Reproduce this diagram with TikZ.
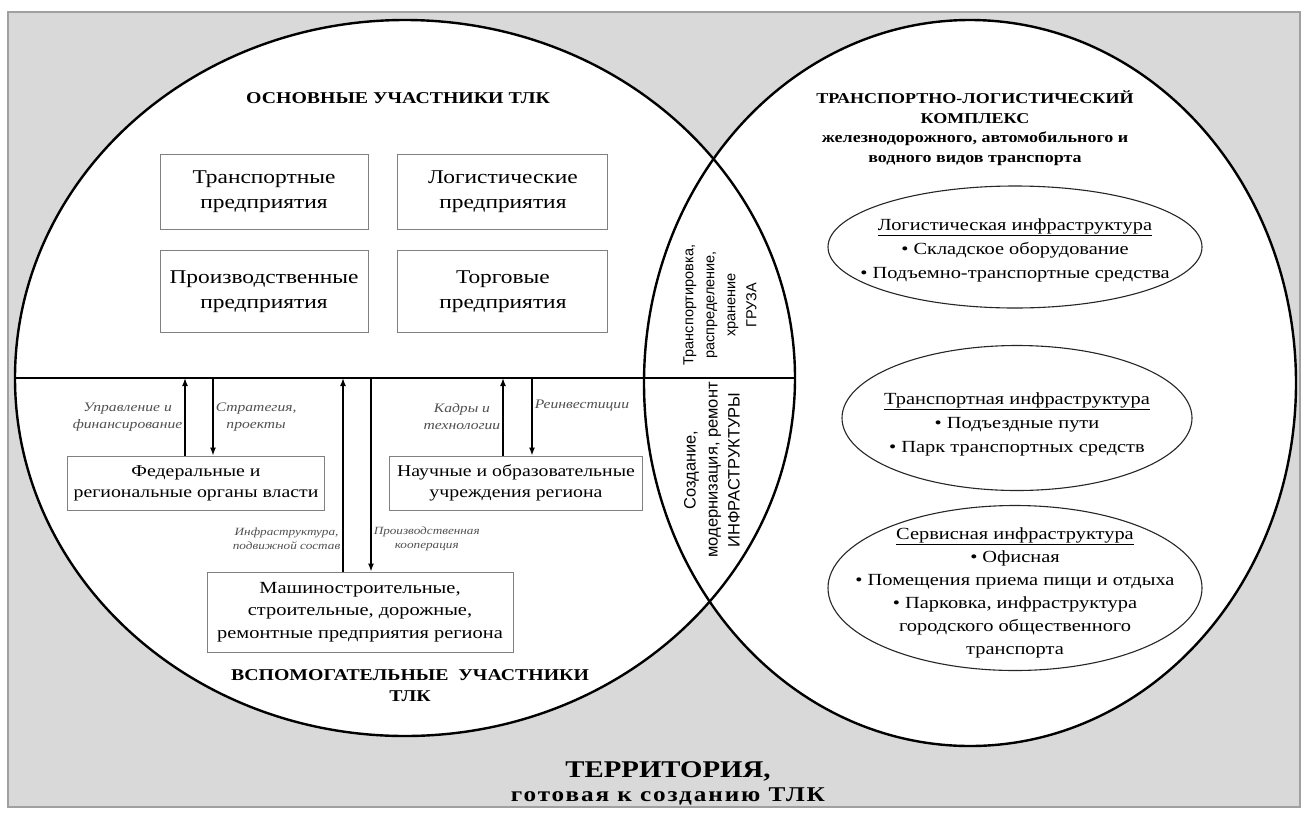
\documentclass[tikz,border=0pt]{standalone}
\usepackage{fontspec}
\setmainfont{Liberation Serif}[FakeStretch=1.2]
\setsansfont{Liberation Sans}
\usetikzlibrary{arrows.meta,positioning,calc,shapes.geometric}
\definecolor{cBack}{HTML}{D9D9D9}
\definecolor{cRim}{HTML}{A0A0A0}
\definecolor{cBox}{HTML}{808080}
\definecolor{cNote}{HTML}{505050}
\newcommand{\fsz}[2]{\fontsize{#1}{#2}\selectfont}
\tikzset{
  actor/.style={draw=cBox, line width=0.9pt, fill=white, inner sep=2pt,
                align=center, font=\fsz{19.5}{25}},
  aux/.style={actor, font=\fsz{16.5}{21}},
  infra/.style={ellipse, draw=black!85, line width=1.1pt, fill=white, inner sep=0pt},
  infotxt/.style={align=center, inner sep=0pt, font=\fsz{17}{24}},
  head/.style={font=\bfseries\fsz{16.5}{21}, align=center},
  lens/.style={rotate=90, align=center, font=\sffamily\fsz{14.5}{21}},
  flow/.style={-{Latex[length=8pt,width=6pt]}, line width=1.5pt},
  note/.style={font=\itshape\fsz{13}{17}, text=cNote, align=center, inner sep=2pt},
  setline/.style={line width=2.4pt}
}
\begin{document}
\begin{tikzpicture}[x=1pt, y=-1pt]
\useasboundingbox (0,0) rectangle (1304,812);
% territory and the two sets
\draw[cRim, fill=cBack, line width=1.2pt] (8,12) rectangle (1300,807);
\fill[white] (405,378) ellipse [x radius=390pt, y radius=358pt];
\fill[white] (970,383) ellipse [x radius=326pt, y radius=363pt];
\draw[setline] (405,378) ellipse [x radius=390pt, y radius=358pt];
\draw[setline] (970,383) ellipse [x radius=326pt, y radius=363pt];
\coordinate (divL) at (15,378);
\coordinate (divR) at (795,378);
\draw[line width=1.6pt] (divL) -- (divR);
% main participants
\node[head] (mainhd) at (398,98) {ОСНОВНЫЕ УЧАСТНИКИ ТЛК};
\node[actor, minimum width=208pt, minimum height=75pt] (trans) at (264,192) {Транспортные\\предприятия};
\node[actor, minimum width=210pt, minimum height=75pt, right=29pt of trans] (logi) {Логистические\\предприятия};
\node[actor, minimum width=208pt, minimum height=82pt, below=20pt of trans] (prod) {Производственные\\предприятия};
\node[actor, minimum width=210pt, minimum height=82pt, right=29pt of prod] (trade) {Торговые\\предприятия};
% auxiliary participants
\node[aux, minimum width=257pt, minimum height=54pt] (fed) at (196,483) {Федеральные и\\региональные органы власти};
\node[aux, minimum width=253pt, minimum height=54pt] (sci) at (516,483) {Научные и образовательные\\учреждения региона};
\node[aux, minimum width=306pt, minimum height=80pt, font=\fsz{17}{22.5}] (mach) at (360,612) {Машиностроительные,\\строительные, дорожные,\\ремонтные предприятия региона};
\node[head] (auxhd) at (410,686) {ВСПОМОГАТЕЛЬНЫЕ \ УЧАСТНИКИ\\ТЛК};
% flows across the divider
\coordinate (d1) at (185,378);
\coordinate (d2) at (213,378);
\coordinate (d3) at (343,378);
\coordinate (d4) at (371,378);
\coordinate (d5) at (503,378);
\coordinate (d6) at (532,378);
\draw[flow] (fed.north -| d1) -- (d1) node[note, midway, left] {Управление и\\финансирование};
\draw[flow] (d2) -- (fed.north -| d2) node[note, midway, right] {Стратегия,\\проекты};
\draw[flow] (mach.north -| d3) -- (d3) node[note, pos=0.17, left, font=\itshape\fsz{11}{14}] {Инфраструктура,\\подвижной состав};
\draw[flow] (d4) -- (mach.north -| d4) node[note, pos=0.83, right, font=\itshape\fsz{11}{14}] {Производственная\\кооперация};
\draw[flow] (sci.north -| d5) -- (d5) node[note, midway, left] {Кадры и\\технологии};
\draw[flow] (d6) -- (sci.north -| d6) node[note, pos=0.35, right] {Реинвестиции};
% overlap of the sets
\node[lens] (cargo) at (720,305) {Транспортировка,\\распределение,\\хранение\\ГРУЗА};
\node[lens, font=\sffamily\fsz{16.5}{22}] (repair) at (712,470) {Создание,\\модернизация, ремонт\\ИНФРАСТРУКТУРЫ};
% transport and logistics complex
\node[head, font=\bfseries\fsz{15}{19.5}] (tlk) at (975,128) {ТРАНСПОРТНО-ЛОГИСТИЧЕСКИЙ\\КОМПЛЕКС\\железнодорожного, автомобильного и\\водного видов транспорта};
\node[infra, minimum width=374pt, minimum height=122pt] (loginf) at (1015,247) {};
\node[infotxt] at ([yshift=-3pt]loginf.center) {\underline{Логистическая инфраструктура}\\• Складское оборудование\\• Подъемно-транспортные средства};
\node[infra, minimum width=350pt, minimum height=145pt] (trinf) at (1017,418) {};
\node[infotxt] at ([yshift=-6pt]trinf.center) {\underline{Транспортная инфраструктура}\\• Подъездные пути\\• Парк транспортных средств};
\node[infra, minimum width=374pt, minimum height=165pt] (servinf) at (1015,588) {};
\node[infotxt, font=\fsz{17}{23}] at ([yshift=-5pt]servinf.center) {\underline{Сервисная инфраструктура}\\• Офисная\\• Помещения приема пищи и отдыха\\• Парковка, инфраструктура\\городского общественного\\транспорта};
% territory caption
\node[head, font=\bfseries\fsz{24}{28}] (terr) at (668,771) {ТЕРРИТОРИЯ,};
\node[head, font=\bfseries\fsz{21}{24}\addfontfeature{LetterSpace=9}] (ready) at (668,796) {готовая к созданию ТЛК};
\end{tikzpicture}
\end{document}
